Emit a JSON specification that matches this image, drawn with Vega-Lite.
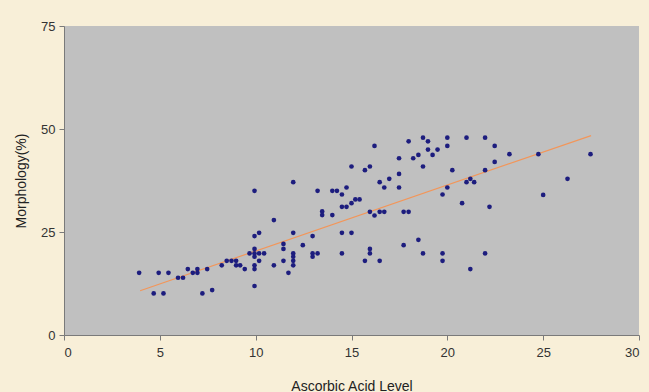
{
  "$schema": "https://vega.github.io/schema/vega-lite/v6.json",
  "autosize": "none",
  "width": 575,
  "height": 309,
  "padding": {"left": 64, "top": 26, "right": 10, "bottom": 57},
  "background": "#f8efd8",
  "config": {
    "view": {"fill": "#c0c0c0", "stroke": null},
    "font": "Liberation Sans",
    "axis": {
      "grid": false,
      "domainColor": "#7a7a7a",
      "tickColor": "#7a7a7a",
      "tickSize": 5,
      "labelFont": "Liberation Sans",
      "labelFontSize": 13,
      "labelColor": "#333333",
      "titleFont": "Liberation Sans",
      "titleFontSize": 14,
      "titleFontWeight": "normal",
      "titleColor": "#222222"
    }
  },
  "datasets": {
    "pts": [
      {"x": 3.92, "y": 15.1}, {"x": 4.94, "y": 15.1}, {"x": 5.45, "y": 15.1}, {"x": 5.95, "y": 13.9},
      {"x": 6.21, "y": 13.9}, {"x": 6.46, "y": 16.0}, {"x": 6.72, "y": 15.1}, {"x": 6.96, "y": 16.0},
      {"x": 6.96, "y": 15.1}, {"x": 7.47, "y": 16.0}, {"x": 4.68, "y": 10.1}, {"x": 5.19, "y": 10.1},
      {"x": 7.22, "y": 10.1}, {"x": 7.73, "y": 10.9},
      {"x": 8.23, "y": 16.9}, {"x": 8.49, "y": 18.0}, {"x": 8.74, "y": 18.0}, {"x": 8.98, "y": 18.0},
      {"x": 8.98, "y": 16.9}, {"x": 9.19, "y": 16.9}, {"x": 9.43, "y": 16.0}, {"x": 9.68, "y": 19.8},
      {"x": 9.94, "y": 19.8}, {"x": 9.94, "y": 20.9}, {"x": 9.94, "y": 19.0}, {"x": 9.94, "y": 16.9},
      {"x": 9.94, "y": 16.0}, {"x": 9.94, "y": 24.0}, {"x": 9.94, "y": 35.0}, {"x": 9.94, "y": 11.9},
      {"x": 10.18, "y": 24.8}, {"x": 10.18, "y": 19.8}, {"x": 10.18, "y": 18.0}, {"x": 10.44, "y": 19.8},
      {"x": 10.95, "y": 27.9}, {"x": 10.95, "y": 16.9}, {"x": 11.45, "y": 22.1}, {"x": 11.45, "y": 20.9},
      {"x": 11.45, "y": 18.0}, {"x": 11.71, "y": 15.1}, {"x": 11.96, "y": 37.1}, {"x": 11.96, "y": 24.8},
      {"x": 11.96, "y": 19.8}, {"x": 11.96, "y": 19.0}, {"x": 11.96, "y": 18.0}, {"x": 11.96, "y": 16.9},
      {"x": 12.46, "y": 21.8}, {"x": 12.97, "y": 24.0}, {"x": 12.97, "y": 19.8}, {"x": 12.97, "y": 19.0},
      {"x": 13.23, "y": 19.8}, {"x": 13.23, "y": 35.0}, {"x": 13.47, "y": 30.0}, {"x": 13.47, "y": 29.1},
      {"x": 14.0, "y": 29.1}, {"x": 14.0, "y": 35.0}, {"x": 14.24, "y": 35.0}, {"x": 14.5, "y": 34.1},
      {"x": 14.5, "y": 31.1}, {"x": 14.5, "y": 24.8}, {"x": 14.5, "y": 19.8}, {"x": 14.74, "y": 35.8},
      {"x": 14.74, "y": 31.1}, {"x": 15.0, "y": 40.9}, {"x": 15.0, "y": 32.0}, {"x": 15.0, "y": 24.8},
      {"x": 15.2, "y": 32.9}, {"x": 15.42, "y": 32.9},
      {"x": 16.2, "y": 45.9}, {"x": 15.7, "y": 40.0}, {"x": 15.96, "y": 40.9}, {"x": 15.96, "y": 29.9},
      {"x": 16.2, "y": 29.0}, {"x": 16.47, "y": 29.9}, {"x": 16.71, "y": 29.9}, {"x": 16.47, "y": 37.1},
      {"x": 16.71, "y": 35.8}, {"x": 16.97, "y": 37.9}, {"x": 15.7, "y": 18.0}, {"x": 15.96, "y": 20.9},
      {"x": 15.96, "y": 19.8}, {"x": 16.47, "y": 18.0}, {"x": 17.48, "y": 42.9}, {"x": 17.48, "y": 39.1},
      {"x": 17.48, "y": 35.8}, {"x": 17.72, "y": 29.9}, {"x": 17.98, "y": 29.9}, {"x": 17.72, "y": 21.8},
      {"x": 17.98, "y": 47.0}, {"x": 18.22, "y": 42.9}, {"x": 18.49, "y": 43.7}, {"x": 18.49, "y": 23.1},
      {"x": 18.73, "y": 47.9}, {"x": 18.73, "y": 40.9}, {"x": 18.73, "y": 19.8}, {"x": 18.99, "y": 47.0},
      {"x": 18.99, "y": 45.0}, {"x": 19.23, "y": 43.7}, {"x": 19.49, "y": 45.0}, {"x": 19.75, "y": 34.1},
      {"x": 19.75, "y": 19.8}, {"x": 19.75, "y": 18.0}, {"x": 20.0, "y": 47.9}, {"x": 20.0, "y": 45.9},
      {"x": 20.0, "y": 35.8}, {"x": 20.26, "y": 40.0}, {"x": 20.77, "y": 32.0}, {"x": 21.0, "y": 47.9},
      {"x": 21.0, "y": 37.1}, {"x": 21.2, "y": 37.9}, {"x": 21.4, "y": 37.1}, {"x": 21.2, "y": 16.0},
      {"x": 21.97, "y": 47.9}, {"x": 21.97, "y": 40.0}, {"x": 21.97, "y": 19.8}, {"x": 22.2, "y": 31.1},
      {"x": 22.47, "y": 45.9}, {"x": 22.47, "y": 42.0},
      {"x": 23.24, "y": 43.9}, {"x": 24.75, "y": 43.9}, {"x": 25.0, "y": 34.0}, {"x": 26.27, "y": 37.9},
      {"x": 27.47, "y": 43.9}
    ],
    "trend": [
      {"x": 3.97, "y": 10.75},
      {"x": 27.5, "y": 48.4}
    ]
  },
  "layer": [
    {
      "data": {"name": "trend"},
      "mark": {"type": "line", "color": "#f2965a", "strokeWidth": 1.2},
      "encoding": {
        "x": {"field": "x", "type": "quantitative"},
        "y": {"field": "y", "type": "quantitative"}
      }
    },
    {
      "data": {"name": "pts"},
      "mark": {"type": "circle", "color": "#1d1d7e", "opacity": 1, "size": 22},
      "encoding": {
        "x": {
          "field": "x", "type": "quantitative",
          "scale": {"domain": [0, 30], "nice": false, "zero": true},
          "axis": {"values": [0, 5, 10, 15, 20, 25, 30], "title": "Ascorbic Acid Level", "labelPadding": 6, "titlePadding": 20}
        },
        "y": {
          "field": "y", "type": "quantitative",
          "scale": {"domain": [0, 75], "nice": false},
          "axis": {"values": [0, 25, 50, 75], "title": "Morphology(%)", "labelPadding": 4, "titlePadding": 12}
        }
      }
    }
  ]
}
